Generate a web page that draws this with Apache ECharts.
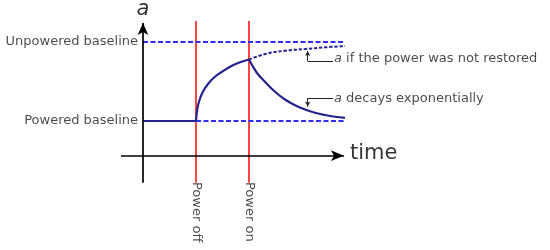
<!DOCTYPE html>
<html lang="en">
<head>
<meta charset="utf-8">
<title>a after power off / power on</title>
<script src="https://cdn.jsdelivr.net/npm/echarts@6/dist/echarts.min.js"></script>
<style>
html, body { margin: 0; padding: 0; background: #fff; }
#main { width: 550px; height: 250px; }
</style>
</head>
<body>
<div id="main"></div>
<script>
// time unit: power off at t=1, power on at t=2 ; a: powered baseline 0, unpowered 1
var eventNames = ['Power off', 'Power on'];
var eventTimes = [1, 2];
var baselineNames = ['Unpowered baseline', 'Powered baseline'];
var baselineValues = [1, 0];
var tEnd = 3.81;

// a rising after power off
var riseTime = [1, 1.0245, 1.066, 1.132, 1.226, 1.340, 1.491, 1.660, 1.830, 2];
var riseA    = [0, 0.152, 0.266, 0.373, 0.468, 0.551, 0.624, 0.694, 0.743, 0.778];

// a if the power was not restored
var holdTime = [2, 2.302, 2.679, 3.057, 3.434, 3.811];
var holdA    = [0.778, 0.848, 0.890, 0.911, 0.933, 0.949];

// a decays after power on
var decayTime = [2, 2.151, 2.302, 2.491, 2.679, 2.868, 3.057, 3.245, 3.434, 3.623, 3.811];
var decayA    = [0.778, 0.608, 0.497, 0.371, 0.272, 0.199, 0.146, 0.105, 0.076, 0.054, 0.040];

var noteTexts = ['{i|a} if the power was not restored', '{i|a} decays exponentially'];

function zip(xs, ys) {
	return xs.map(function (x, i) { return [x, ys[i]]; });
}

var navy = '#23238f';
var blue = '#2e2eff';
var red = '#ff2424';
var ink = '#000';
var textColor = '#1c1c1c';
var font = 'DejaVu Sans';

// layout (data coords of the picture edges)
var xAxisA = -0.439, axisTop = 1.24, axisBottom = -0.781;
var redTop = 1.266;

function textPoint(x, y, text, label) {
	return { value: [x, y], label: Object.assign({ formatter: text }, label) };
}

var italicRich = { i: { fontStyle: 'italic', fontFamily: font, fontSize: 13, color: textColor } };

var myChart = echarts.init(document.getElementById('main'));

var option = {
	animation: false,
	grid: { left: 0, right: 0, top: 0, bottom: 0 },
	xAxis: { type: 'value', min: -2.698, max: 7.679, show: false },
	yAxis: { type: 'value', min: -1.633, max: 1.532, show: false },
	series: [
		{ // event lines
			type: 'line', symbol: 'none', silent: true, z: 2,
			data: [[eventTimes[0], redTop], [eventTimes[0], axisBottom], '-',
				[eventTimes[1], redTop], [eventTimes[1], axisBottom]],
			lineStyle: { color: red, width: 1.7 }
		},
		{ // powered, before power off
			type: 'line', symbol: 'none', z: 3,
			data: [[0, baselineValues[1]], [eventTimes[0], baselineValues[1]]],
			lineStyle: { color: navy, width: 2.2 }
		},
		{ // powered baseline dashed
			type: 'line', symbol: 'none', z: 3,
			data: [[eventTimes[0], baselineValues[1]], [tEnd, baselineValues[1]]],
			lineStyle: { color: blue, width: 2, type: [5, 2.5] }
		},
		{ // unpowered baseline dashed
			type: 'line', symbol: 'none', z: 3,
			data: [[0, baselineValues[0]], [tEnd, baselineValues[0]]],
			lineStyle: { color: blue, width: 2, type: [5, 2.5] }
		},
		{
			type: 'line', symbol: 'none', smooth: 0.4, z: 4,
			data: zip(riseTime, riseA),
			lineStyle: { color: navy, width: 2.2 }
		},
		{
			type: 'line', symbol: 'none', smooth: 0.4, z: 4,
			data: zip(holdTime, holdA),
			lineStyle: { color: navy, width: 2, type: [3.3, 1.8] }
		},
		{
			type: 'line', symbol: 'none', smooth: 0.4, z: 4,
			data: zip(decayTime, decayA),
			lineStyle: { color: navy, width: 2.2 },
			// axes and leader arrows
			markLine: {
				silent: true, animation: false,
				label: { show: false },
				symbol: ['none', 'none'],
				lineStyle: { color: ink, width: 1.7, type: 'solid' },
				data: [
					[{ coord: [-0.415, xAxisA] }, { coord: [3.79, xAxisA], symbol: 'arrow', symbolSize: [8, 13] }],
					[{ coord: [0, axisBottom] }, { coord: [0, axisTop], symbol: 'arrow', symbolSize: [8, 12] }],
					[{ coord: [3.585, 0.759], lineStyle: { width: 1, color: '#222' } }, { coord: [3.108, 0.759] }],
					[{ coord: [3.108, 0.759], lineStyle: { width: 1, color: '#222' } }, { coord: [3.108, 0.886], symbol: 'arrow', symbolSize: [4, 5] }],
					[{ coord: [3.585, 0.287], lineStyle: { width: 1, color: '#222' } }, { coord: [3.108, 0.287] }],
					[{ coord: [3.108, 0.287], lineStyle: { width: 1, color: '#222' } }, { coord: [3.108, 0.184], symbol: 'arrow', symbolSize: [4, 5] }]
				]
			}
		},
		{ // texts
			type: 'scatter', symbolSize: 0, silent: true, z: 10,
			label: {
				show: true, fontFamily: font, fontSize: 13, color: textColor,
				position: 'right', distance: 0
			},
			data: [
				textPoint(-0.094, baselineValues[0], baselineNames[0], { position: 'left' }),
				textPoint(-0.094, baselineValues[1], baselineNames[1], { position: 'left' }),
				textPoint(3.604, 0.785, noteTexts[0], { rich: italicRich }),
				textPoint(3.604, 0.278, noteTexts[1], { rich: italicRich }),
				textPoint(eventTimes[0], -0.772, eventNames[0], { rotate: -90, align: 'left', verticalAlign: 'middle', position: [0, 0] }),
				textPoint(eventTimes[1], -0.772, eventNames[1], { rotate: -90, align: 'left', verticalAlign: 'middle', position: [0, 0] }),
				textPoint(3.906, -0.418, 'time', { fontSize: 21, color: ink }),
				textPoint(0, 1.405, 'a', { position: 'inside', fontSize: 21, fontStyle: 'italic', color: ink })
			]
		}
	]
};
myChart.setOption(option);
</script>
</body>
</html>
